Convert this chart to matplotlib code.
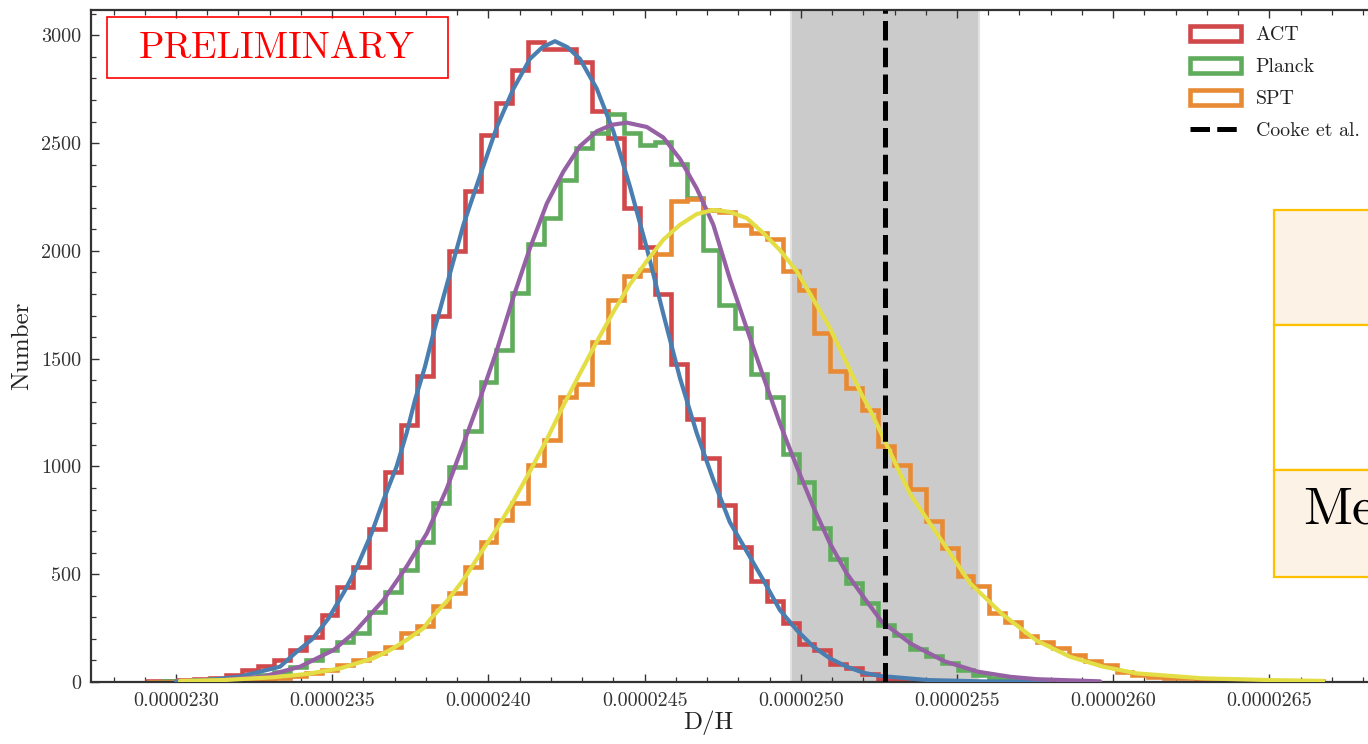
import numpy as np
import matplotlib
matplotlib.use("Agg")
import matplotlib.pyplot as plt
from matplotlib.ticker import MultipleLocator
from matplotlib.patches import Rectangle

plt.rcParams['font.family'] = ['cmr10', 'DejaVu Serif']
plt.rcParams['mathtext.fontset'] = 'cm'
plt.rcParams['axes.formatter.use_mathtext'] = True
plt.rcParams['axes.unicode_minus'] = False

# ---------------- data ----------------
bin_start = 2.29062e-5
bin_width = 5.0896e-8

act_counts = [4, 6, 10, 14, 18, 32, 56, 76, 102, 148, 210, 311, 439, 535, 708, 976,
              1192, 1420, 1700, 2000, 2279, 2540, 2687, 2841, 2968, 2936, 2936, 2877,
              2650, 2524, 2199, 2017, 1800, 1475, 1218, 1040, 820, 626, 470, 375, 272,
              178, 150, 84, 64, 36, 16, 10, 6, 4, 2, 1]

planck_counts = [2, 3, 5, 8, 12, 14, 20, 32, 48, 71, 102, 148, 187, 226, 326, 419,
                 520, 651, 829, 997, 1165, 1392, 1539, 1805, 2032, 2151, 2328, 2476,
                 2545, 2636, 2549, 2490, 2506, 2402, 2244, 2004, 1750, 1642, 1430, 1323,
                 1060, 930, 714, 572, 461, 367, 264, 217, 153, 121, 88, 56, 32, 18, 12,
                 8, 5, 3, 2]

spt_counts = [2, 2, 3, 4, 6, 8, 10, 14, 20, 28, 40, 56, 79, 102, 133, 164, 226, 262,
              352, 415, 533, 651, 750, 829, 1007, 1125, 1322, 1381, 1579, 1774, 1883,
              1913, 1986, 2230, 2242, 2190, 2180, 2122, 2083, 2055, 1906, 1819, 1619,
              1443, 1363, 1262, 1095, 1008, 895, 749, 622, 492, 445, 320, 277, 214, 187,
              158, 125, 98, 79, 48, 34, 24, 20, 18, 16, 13, 10, 8, 6, 5, 4, 3]

# fitted curves (x in units of 1e-5)
act_fit_x = [2.3000, 2.3096, 2.3205, 2.3333, 2.3386, 2.3437, 2.3488, 2.3539, 2.3578,
             2.3626, 2.3664, 2.3706, 2.3738, 2.3765, 2.3797, 2.3824, 2.3920, 2.3973,
             2.4027, 2.4080, 2.4133, 2.4173, 2.4213, 2.4253, 2.4293, 2.4347, 2.4400,
             2.4453, 2.4507, 2.4560, 2.4613, 2.4667, 2.4720, 2.4773, 2.4880, 2.4933,
             2.4987, 2.5040, 2.5093, 2.5147, 2.5200, 2.5254, 2.5407, 2.5574, 2.5798]
act_fit_y = [2, 8, 25, 71, 140, 200, 295, 420, 530, 690, 844, 999, 1154, 1308, 1463,
             1618, 2121, 2348, 2575, 2752, 2891, 2945, 2973, 2945, 2891, 2752, 2555,
             2299, 2013, 1707, 1411, 1154, 938, 741, 473, 334, 241, 164, 110, 71, 43,
             28, 9, 3, 1]

planck_fit_x = [2.3013, 2.3141, 2.3279, 2.3397, 2.3504, 2.3568, 2.3664, 2.3738, 2.3803,
                2.3867, 2.3920, 2.3973, 2.4027, 2.4080, 2.4133, 2.4187, 2.4240, 2.4293,
                2.4347, 2.4395, 2.4443, 2.4507, 2.4560, 2.4613, 2.4667, 2.4720, 2.4773,
                2.4827, 2.4880, 2.4933, 2.4987, 2.5040, 2.5093, 2.5147, 2.5200, 2.5259,
                2.5354, 2.5460, 2.5566, 2.5671, 2.5756, 2.5958]
planck_fit_y = [3, 9, 25, 71, 148, 226, 380, 535, 690, 898, 1105, 1313, 1539, 1786,
                2013, 2220, 2368, 2486, 2555, 2585, 2595, 2575, 2526, 2427, 2289, 2121,
                1870, 1640, 1417, 1200, 999, 813, 644, 504, 396, 280, 176, 96, 48, 24,
                13, 3]

spt_fit_x = [2.3013, 2.3151, 2.3311, 2.3418, 2.3525, 2.3632, 2.3685, 2.3738, 2.3792,
             2.3813, 2.3867, 2.3920, 2.3973, 2.4027, 2.4080, 2.4133, 2.4187, 2.4240,
             2.4293, 2.4347, 2.4400, 2.4453, 2.4507, 2.4560, 2.4613, 2.4667, 2.4720,
             2.4773, 2.4827, 2.4880, 2.4933, 2.4987, 2.5040, 2.5090, 2.5196, 2.5222,
             2.5270, 2.5328, 2.5354, 2.5435, 2.5542, 2.5648, 2.5755, 2.5862, 2.5968,
             2.6075, 2.6287, 2.6502, 2.6672]
spt_fit_y = [5, 9, 22, 37, 63, 110, 148, 195, 249, 290, 375, 474, 593, 711, 839, 977,
             1125, 1283, 1431, 1579, 1717, 1845, 1953, 2052, 2121, 2171, 2190, 2181,
             2152, 2083, 2004, 1906, 1775, 1651, 1330, 1262, 1115, 937, 863, 690, 458,
             311, 192, 117, 71, 40, 17, 9, 5]

cooke_mean = 2.527e-5
cooke_sigma = 0.030e-5

series_labels = ['ACT', 'Planck', 'SPT', 'Cooke et al.']
xtick_values = [2.30e-5, 2.35e-5, 2.40e-5, 2.45e-5, 2.50e-5, 2.55e-5, 2.60e-5, 2.65e-5]
xtick_labels = ['0.0000230', '0.0000235', '0.0000240', '0.0000245',
                '0.0000250', '0.0000255', '0.0000260', '0.0000265']
ytick_values = [0, 500, 1000, 1500, 2000, 2500, 3000]

# ---------------- styles ----------------
c_act, c_planck, c_spt = '#d1484a', '#5fad5c', '#e88a34'
c_act_fit, c_planck_fit, c_spt_fit = '#4a7eb0', '#9660a5', '#e4de46'

W, H = 1368, 744
fig = plt.figure(figsize=(W / 100, H / 100), dpi=100)
ax = fig.add_axes([91 / W, (H - 682) / H, (1418 - 91) / W, (682 - 9.5) / H])

ax.axvspan(cooke_mean - cooke_sigma, cooke_mean + cooke_sigma,
           facecolor='#cbcbcb', edgecolor='#e2e2e2', lw=1.5, zorder=0.5)

def edges_for(counts):
    return bin_start + bin_width * np.arange(len(counts) + 1)

for counts, col, lab in [(act_counts, c_act, series_labels[0]),
                         (planck_counts, c_planck, series_labels[1]),
                         (spt_counts, c_spt, series_labels[2])]:
    e = edges_for(counts)
    ax.hist(e[:-1], bins=e, weights=counts, histtype='step', color=col,
            lw=3.3, label=lab, zorder=2)

for fx, fy, col in [(act_fit_x, act_fit_y, c_act_fit),
                    (planck_fit_x, planck_fit_y, c_planck_fit),
                    (spt_fit_x, spt_fit_y, c_spt_fit)]:
    ax.plot(np.array(fx) * 1e-5, fy, color=col, lw=3.0, zorder=3,
            solid_capstyle='round', solid_joinstyle='round')

ax.axvline(cooke_mean, color='black', lw=3.6, ls='--', dashes=(3.9, 1.45),
           label=series_labels[3], zorder=4)

ax.set_xlim(2.272791e-5, 2.697564e-5)
ax.set_ylim(0, 3120)
ax.set_xticks(xtick_values)
ax.set_xticklabels(xtick_labels)
ax.set_yticks(ytick_values)
ax.set_yticklabels([str(v) for v in ytick_values])
ax.xaxis.set_minor_locator(MultipleLocator(1e-7))
ax.yaxis.set_minor_locator(MultipleLocator(100))
ax.tick_params(which='both', direction='in', top=True, right=True,
               colors='#333333', labelcolor='#333333')
ax.tick_params(which='major', length=6, width=1.0, labelsize=14.5, pad=7)
ax.tick_params(which='minor', length=3.5, width=0.9)
for s in ax.spines.values():
    s.set_color('#333333')
    s.set_linewidth(1.6)

fig.text(708 / W, 1 - 723 / H, 'D/H', ha='center', va='center', fontsize=18,
         color='#222222')
fig.text(22 / W, 1 - 346 / H, 'Number', ha='center', va='center', fontsize=18,
         rotation=90, color='#222222')

# PRELIMINARY box
fig.patches.append(Rectangle((107 / W, 1 - 77.5 / H), (448 - 107) / W, (77.5 - 17) / H,
                             transform=fig.transFigure, fill=False,
                             edgecolor='#ff0000', lw=1.2, zorder=10))
fig.text(277 / W, 1 - 48 / H, 'PRELIMINARY', ha='center', va='center',
         fontsize=27, color='#ff0000', zorder=11)

# legend
leg = ax.legend(loc='upper left', bbox_to_anchor=(1186 / W, 1 - 22 / H),
                bbox_transform=fig.transFigure, frameon=False, fontsize=14.3,
                handlelength=2.55, handleheight=0.75, handletextpad=0.75,
                labelspacing=0.7, borderpad=0.2, borderaxespad=0)
for t in leg.get_texts():
    t.set_color('#222222')

# partial table on the right
row_bounds = [210, 325, 470, 577]
row_fill = ['#fdf2e6', '#ffffff', '#fdf2e6']
for i in range(3):
    y0, y1 = row_bounds[i], row_bounds[i + 1]
    fig.patches.append(Rectangle((1274 / W, 1 - y1 / H), 400 / W, (y1 - y0) / H,
                                 transform=fig.transFigure, facecolor=row_fill[i],
                                 edgecolor='#ffc000', lw=1.6, zorder=20))
fig.text(1303 / W, 1 - 510 / H, 'Mean', ha='left', va='center', fontsize=38.5,
         color='black', zorder=21)

fig.savefig('out.png', dpi=100)
